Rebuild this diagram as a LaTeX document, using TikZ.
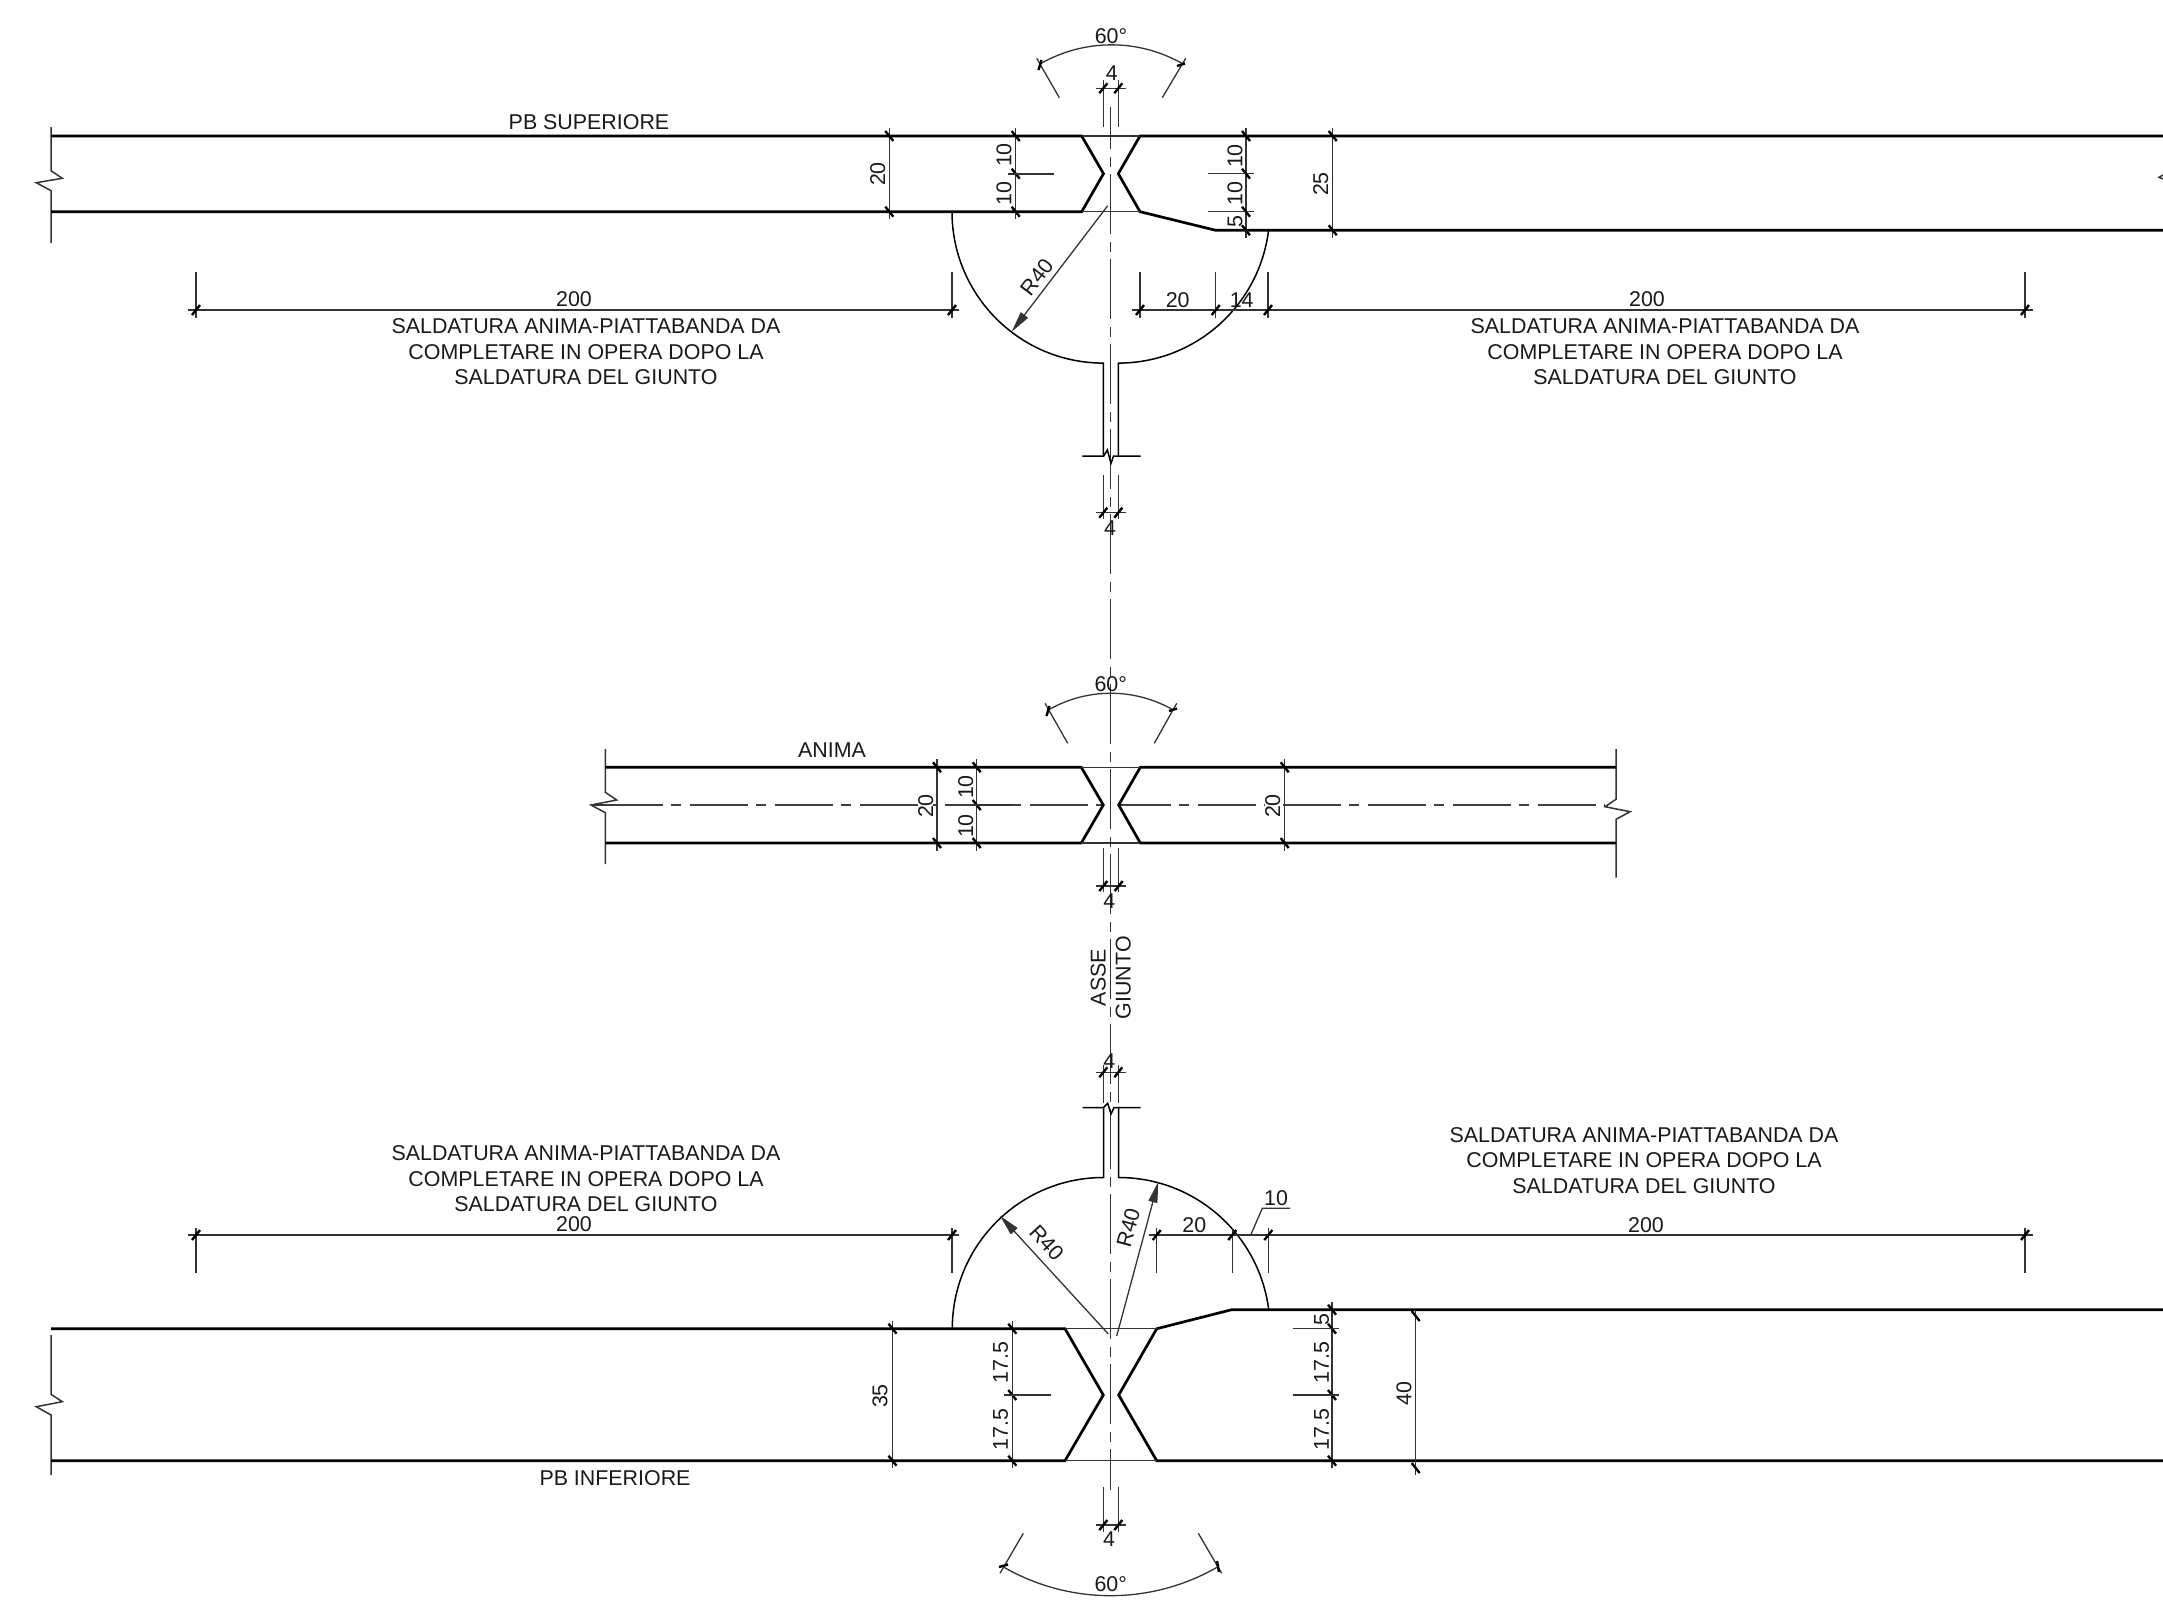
\documentclass[tikz,border=0pt]{standalone}
\usepackage{fontspec}
\setmainfont{Liberation Sans}
\usetikzlibrary{arrows.meta}
\tikzset{
  plate/.style={line width=2.7pt,black,line join=miter},
  edge/.style={line width=1.5pt,black!80},
  dimline/.style={line width=1.3pt,black!80},
  curve/.style={line width=1.5pt,black},
  tick/.style={line width=2.4pt,black},
  axisv/.style={line width=1.4pt,black!80,dash pattern=on 60pt off 8pt on 10pt off 7pt},
  axish/.style={line width=1.5pt,black!75,dash pattern=on 58pt off 8pt on 10pt off 9pt},
  lab/.style={inner sep=0pt,yshift=-1pt,text=black!90,font=\fontsize{21.4}{25.4}\selectfont},
  vlab/.style={lab,rotate=90},
  note/.style={lab,align=center},
  arrowline/.style={dimline,-{Triangle[length=21pt,width=9pt]}}
}
\newcommand{\hk}[2]{\draw[tick] (#1-4,#2+5) -- (#1+4,#2-5);}
\newcommand{\vk}[2]{\draw[tick] (#1-4,#2-5) -- (#1+4,#2+5);}
\begin{document}
\begin{tikzpicture}[x=1pt,y=-1pt]
\useasboundingbox (0,0) rectangle (2163,1603);
% joint axis
\draw[axisv,dash phase=18pt] (1110.7,107) -- (1110.7,1490);

%%% TOP PLATE
\draw[edge] (51,127) -- (51,170.7) -- (62.3,178.3) -- (36.3,182.7) -- (51,190.7) -- (51,243);
\draw[plate] (51,136) -- (1081.7,136) -- (1103.5,173.7) -- (1081.7,211.7) -- (51,211.7);
\draw[plate] (2163,136) -- (1140,136) -- (1118.3,173.7) -- (1140,211.7) -- (1215.7,230.3) -- (2163,230.3);
\draw[edge] (1081.7,136) -- (1140,136) (1081.7,211.7) -- (1140,211.7);
\draw[edge] (2163,175) -- (2159,177.3) -- (2163,179);
% web and radius
\draw[curve] (952,211.7) arc[start angle=180,end angle=270,radius=151.4pt] -- (1103.4,456);
\draw[curve] (1118.3,456) -- (1118.3,363.1) arc[start angle=270,end angle=353,radius=151.4pt];
\draw[curve] (1082.3,456) -- (1103.7,456) -- (1107.3,450) -- (1111,463.3) -- (1113.5,456) -- (1140.7,456);
\draw[arrowline] (1107.7,205.7) -- (1011.7,331.7);
% angle
\draw[dimline] (1040,64) arc[start angle=120,end angle=60,radius=143pt];
\draw[dimline] (1059.3,97.7) -- (1036.7,58.3) (1162.3,97.7) -- (1185.7,58.3);
\draw[tick] (1038.5,70) -- (1041.5,60);
\draw[tick] (1177,66) -- (1185,63.5);
% gap dims
\draw[dimline] (1103.3,80) -- (1103.3,126.7) (1118.3,80) -- (1118.3,126.7) (1095.7,88.3) -- (1126,88.3);
\hk{1103.3}{88.3} \hk{1118.3}{88.3}
\draw[dimline] (1103.3,475) -- (1103.3,519.3) (1118.3,475) -- (1118.3,519.3) (1095.7,512.7) -- (1125.7,512.7);
\hk{1103.3}{512.7} \hk{1118.3}{512.7}
% vertical dims
\draw[dimline] (889.3,128) -- (889.3,219);
\vk{889.3}{136} \vk{889.3}{211.7}
\draw[dimline] (1015.7,128) -- (1015.7,219);
\vk{1015.7}{136} \vk{1015.7}{173.7} \vk{1015.7}{211.7}
\draw[dimline,line width=1.8pt] (1008,173.7) -- (1054,173.7);
\draw[dimline] (1246,128) -- (1246,238);
\vk{1246}{136} \vk{1246}{173.7} \vk{1246}{211.7} \vk{1246}{230.3}
\draw[dimline] (1208,173.7) -- (1254,173.7) (1208,211.7) -- (1254,211.7);
\draw[dimline] (1332.7,128) -- (1332.7,238);
\vk{1332.7}{136} \vk{1332.7}{230.3}
% horizontal dims
\draw[dimline] (196,272) -- (196,318) (952,272) -- (952,318) (188,310) -- (959,310);
\hk{196}{310} \hk{952}{310}
\draw[dimline] (1140,272) -- (1140,318) (1215.7,272) -- (1215.7,318) (1268,272) -- (1268,318) (2025,272) -- (2025,318) (1132,310) -- (2033,310);
\hk{1140}{310} \hk{1215.7}{310} \hk{1268}{310} \hk{2025}{310}

%%% MIDDLE PLATE
\draw[edge] (605.3,749) -- (605.3,792.3) -- (616.7,800) -- (591,805) -- (605.3,812.7) -- (605.3,864);
\draw[edge] (1616,749) -- (1616,799.3) -- (1605,806.7) -- (1630,811.7) -- (1616,819.3) -- (1616,877.7);
\draw[axish] (605.3,805) -- (1103.3,805);
\draw[axish,dash phase=5.7pt] (1118.7,805) -- (1605,805);
\draw[dimline] (591,805) -- (606,805);
\draw[plate] (605.3,767.3) -- (1081.3,767.3) -- (1103.3,805) -- (1081.3,843) -- (605.3,843);
\draw[plate] (1616,767.3) -- (1140.3,767.3) -- (1118.7,805) -- (1140.3,843) -- (1616,843);
\draw[edge] (1081.3,767.3) -- (1140.3,767.3) (1081.3,843) -- (1140.3,843);
\draw[dimline] (1048.3,710) arc[start angle=120,end angle=60,radius=125pt];
\draw[dimline] (1067.7,743.3) -- (1045,703.3) (1154.3,743.3) -- (1176.7,703.3);
\draw[tick] (1046.5,716) -- (1049.5,706);
\draw[tick] (1169,711) -- (1177,708.5);
\draw[dimline] (1103.3,848.3) -- (1103.3,891.7) (1118.7,848.3) -- (1118.7,891.7) (1095.7,886) -- (1126,886);
\hk{1103.3}{886} \hk{1118.7}{886}
\draw[dimline] (937,759.3) -- (937,850.7) (976.7,759.3) -- (976.7,850.7) (1284.7,759.3) -- (1284.7,850.7);
\vk{937}{767.3} \vk{937}{843} \vk{976.7}{767.3} \vk{976.7}{805} \vk{976.7}{843} \vk{1284.7}{767.3} \vk{1284.7}{843}
\draw[dimline,line width=1.8pt] (970,805) -- (1013,805);

%%% BOTTOM PLATE
\draw[edge] (51,1335) -- (51,1394.3) -- (62.3,1401.7) -- (36.3,1406.7) -- (51,1415) -- (51,1475);
\draw[plate] (51,1328.7) -- (1065,1328.7) -- (1103.3,1395) -- (1065,1460.7) -- (51,1460.7);
\draw[plate] (2163,1309.7) -- (1231.7,1309.7) -- (1156.7,1328.7) -- (1118.7,1395) -- (1156.7,1460.7) -- (2163,1460.7);
\draw[edge] (1065,1328.7) -- (1156.7,1328.7) (1065,1460.7) -- (1156.7,1460.7);
% web and radius
\draw[curve] (952.3,1328.7) arc[start angle=180,end angle=90,radius=151.2pt] -- (1103.5,1107.7);
\draw[curve] (1118.7,1107.7) -- (1118.7,1177.5) arc[start angle=90,end angle=7.2,radius=151.2pt];
\draw[curve] (1082.7,1107.7) -- (1103.3,1107.7) -- (1107.7,1103.3) -- (1111,1114) -- (1114,1107.7) -- (1140.7,1107.7);
\draw[arrowline] (1108.3,1334) -- (1000,1215.7);
\draw[arrowline] (1116.7,1336) -- (1158.3,1181.7);
% angle
\draw[dimline] (1003.5,1567) arc[start angle=240,end angle=300,radius=214pt];
\draw[dimline] (1023.3,1533.3) -- (1000,1573.3) (1198.3,1533.3) -- (1221.7,1573.3);
\draw[tick] (999,1567) -- (1008,1564.5);
\draw[tick] (1217,1561) -- (1219,1572);
% gap dims
\draw[dimline] (1103.3,1065) -- (1103.3,1103) (1118.3,1065) -- (1118.3,1103) (1095.7,1072.3) -- (1125.7,1072.3);
\hk{1103.3}{1072.3} \hk{1118.3}{1072.3}
\draw[dimline] (1103.3,1486.7) -- (1103.3,1531.7) (1118.3,1486.7) -- (1118.3,1531.7) (1095.7,1525) -- (1125.7,1525);
\hk{1103.3}{1525} \hk{1118.3}{1525}
% vertical dims
\draw[dimline] (892.5,1320.7) -- (892.5,1468.3);
\vk{892.5}{1328.7} \vk{892.5}{1460.7}
\draw[dimline] (1012.3,1320.7) -- (1012.3,1468.3);
\vk{1012.3}{1328.7} \vk{1012.3}{1395} \vk{1012.3}{1460.7}
\draw[dimline,line width=1.8pt] (1004,1395) -- (1050.7,1395);
\draw[dimline] (1332,1301.7) -- (1332,1468.3);
\vk{1332}{1309.7} \vk{1332}{1328.7} \vk{1332}{1395} \vk{1332}{1460.7}
\draw[dimline] (1293.3,1328.7) -- (1339.3,1328.7) (1293.3,1395) -- (1339.3,1395);
\draw[dimline] (1415.7,1310) -- (1415.7,1475);
\vk{1415.7}{1316} \vk{1415.7}{1468}
% horizontal dims
\draw[dimline] (196,1228) -- (196,1273) (952,1228) -- (952,1273) (188,1235) -- (959,1235);
\hk{196}{1235} \hk{952}{1235}
\draw[dimline] (1156.7,1228) -- (1156.7,1273) (1232.3,1228) -- (1232.3,1273) (1268.3,1228) -- (1268.3,1273) (2025,1228) -- (2025,1273) (1149.3,1235) -- (2033,1235);
\hk{1156.7}{1235} \hk{1232.3}{1235} \hk{1268.3}{1235} \hk{2025}{1235}
\draw[dimline] (1250.7,1235) -- (1262.3,1208.3) -- (1290,1208.3);

%%% TEXTS - top
\node[lab] (ttitle) at (589,121.4) {PB SUPERIORE};
\node[lab] (tangle) at (1111,35) {60°};
\node[lab] (tgapa) at (1111.7,72) {4};
\node[lab] (tgapb) at (1110,527.3) {4};
\node[vlab] (tv20) at (877.7,173) {20};
\node[vlab] (tv10a) at (1004,154) {10};
\node[vlab] (tv10b) at (1004,192.7) {10};
\node[vlab] (tv10c) at (1235,155) {10};
\node[vlab] (tv10d) at (1235,192.5) {10};
\node[vlab] (tv5) at (1235,220.5) {5};
\node[vlab] (tv25) at (1320.7,183) {25};
\node[lab,rotate=52.7] (trad) at (1036.7,276) {R40};
\node[lab] (th200a) at (574,298) {200};
\node[lab] (th20) at (1177.7,299) {20};
\node[lab] (th14) at (1241.7,299) {14};
\node[lab] (th200b) at (1647,298) {200};
\node[note] (tnotea) at (586,351) {SALDATURA ANIMA-PIATTABANDA DA\\COMPLETARE IN OPERA DOPO LA\\SALDATURA DEL GIUNTO};
\node[note] (tnoteb) at (1665,351) {SALDATURA ANIMA-PIATTABANDA DA\\COMPLETARE IN OPERA DOPO LA\\SALDATURA DEL GIUNTO};
%%% TEXTS - middle
\node[lab] (manima) at (832,749.5) {ANIMA};
\node[lab] (mangle) at (1110.7,683) {60°};
\node[lab] (mgap) at (1109.3,900) {4};
\node[vlab,fill=white] (mv20a) at (925.7,805) {20};
\node[vlab] (mv10a) at (965.7,786) {10};
\node[vlab] (mv10b) at (965.7,825) {10};
\node[vlab,fill=white] (mv20b) at (1272.7,805) {20};
\node[vlab] (masse) at (1098.3,976.7) {ASSE};
\node[vlab] (mgiunto) at (1123.3,976.7) {GIUNTO};
%%% TEXTS - bottom
\node[lab] (bgapa) at (1109.3,1060) {4};
\node[lab] (bgapb) at (1109,1538.3) {4};
\node[lab] (bangle) at (1110.7,1583.3) {60°};
\node[lab] (btitle) at (615,1477) {PB INFERIORE};
\node[note] (bnotea) at (586,1178) {SALDATURA ANIMA-PIATTABANDA DA\\COMPLETARE IN OPERA DOPO LA\\SALDATURA DEL GIUNTO};
\node[note] (bnoteb) at (1644,1159.5) {SALDATURA ANIMA-PIATTABANDA DA\\COMPLETARE IN OPERA DOPO LA\\SALDATURA DEL GIUNTO};
\node[lab] (bh200a) at (574,1223.6) {200};
\node[lab] (bh20) at (1194.3,1224) {20};
\node[lab] (bh10) at (1276,1196.7) {10};
\node[lab] (bh200b) at (1646,1224) {200};
\node[lab,rotate=-47.5] (brada) at (1046.7,1241.7) {R40};
\node[lab,rotate=75] (bradb) at (1128.3,1226.7) {R40};
\node[vlab] (bv35) at (880,1395) {35};
\node[vlab] (bv17a) at (1000.7,1361.7) {17.5};
\node[vlab] (bv17b) at (1000.7,1428.3) {17.5};
\node[vlab] (bv5) at (1321.7,1318.3) {5};
\node[vlab] (bv17c) at (1321.7,1361.7) {17.5};
\node[vlab] (bv17d) at (1321.7,1428.3) {17.5};
\node[vlab] (bv40) at (1404,1392.3) {40};
\end{tikzpicture}
\end{document}
